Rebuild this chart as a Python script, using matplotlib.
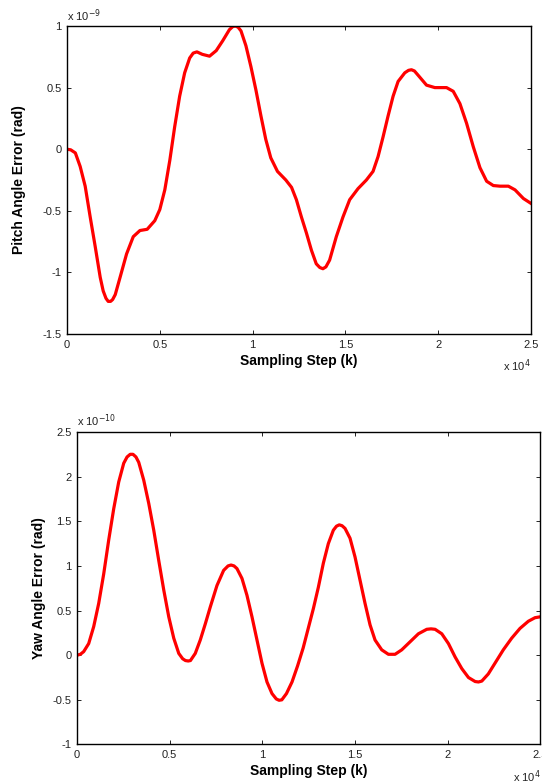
import matplotlib
matplotlib.use("Agg")
import matplotlib.pyplot as plt
from matplotlib.ticker import FuncFormatter

plt.rcParams['font.family'] = ['Liberation Sans', 'DejaVu Sans']

# sampling step in units of 1e4, pitch error in units of 1e-9 rad
pitch_k = [0, 0.02, 0.045, 0.071, 0.098, 0.125, 0.152, 0.179, 0.195, 0.21, 0.222,
           0.235, 0.246, 0.26, 0.286, 0.321, 0.357, 0.393, 0.432, 0.473, 0.5,
           0.527, 0.554, 0.58, 0.607, 0.634, 0.661, 0.68, 0.7, 0.729, 0.768,
           0.804, 0.839, 0.875, 0.893, 0.907, 0.922, 0.9375, 0.964, 0.991, 1.018,
           1.045, 1.071, 1.098, 1.134, 1.179, 1.21, 1.236, 1.263, 1.29, 1.317,
           1.343, 1.362, 1.379, 1.395, 1.415, 1.451, 1.487, 1.523, 1.568, 1.613,
           1.649, 1.676, 1.703, 1.73, 1.757, 1.784, 1.82, 1.84, 1.856, 1.872,
           1.892, 1.937, 1.982, 2.045, 2.081, 2.117, 2.153, 2.189, 2.225, 2.261,
           2.297, 2.333, 2.378, 2.414, 2.459, 2.5]
pitch_err = [0, -0.005, -0.03, -0.14, -0.30, -0.55, -0.79, -1.04, -1.15, -1.21, -1.235,
             -1.235, -1.22, -1.18, -1.04, -0.85, -0.71, -0.66, -0.65, -0.58, -0.49,
             -0.33, -0.09, 0.18, 0.43, 0.62, 0.74, 0.78, 0.79, 0.77, 0.755,
             0.80, 0.88, 0.97, 0.995, 1.0, 0.99, 0.96, 0.84, 0.67, 0.48,
             0.27, 0.08, -0.07, -0.18, -0.25, -0.31, -0.41, -0.55, -0.68, -0.82,
             -0.93, -0.96, -0.97, -0.955, -0.90, -0.71, -0.55, -0.41, -0.32, -0.25,
             -0.18, -0.06, 0.10, 0.27, 0.43, 0.55, 0.62, 0.64, 0.645, 0.635,
             0.60, 0.52, 0.50, 0.50, 0.47, 0.37, 0.21, 0.02, -0.15, -0.26,
             -0.295, -0.30, -0.30, -0.33, -0.40, -0.44]

# yaw error in units of 1e-10 rad
yaw_k = [0, 0.018, 0.036, 0.063, 0.09, 0.117, 0.144, 0.171, 0.198, 0.225, 0.252,
         0.27, 0.287, 0.302, 0.318, 0.333, 0.36, 0.387, 0.414, 0.441, 0.468,
         0.495, 0.522, 0.549, 0.57, 0.585, 0.6, 0.612, 0.638, 0.665, 0.692,
         0.719, 0.755, 0.791, 0.815, 0.831, 0.847, 0.863, 0.89, 0.917, 0.944,
         0.971, 0.998, 1.025, 1.052, 1.075, 1.09, 1.105, 1.13, 1.16, 1.19,
         1.22, 1.25, 1.275, 1.302, 1.329, 1.356, 1.383, 1.4, 1.415, 1.43,
         1.446, 1.473, 1.5, 1.527, 1.554, 1.581, 1.608, 1.644, 1.68, 1.716,
         1.752, 1.797, 1.842, 1.887, 1.91, 1.932, 1.968, 2.004, 2.04, 2.076,
         2.112, 2.148, 2.166, 2.184, 2.219, 2.255, 2.3, 2.345, 2.39, 2.435,
         2.471, 2.5]
yaw_err = [0, 0.01, 0.04, 0.13, 0.32, 0.58, 0.91, 1.29, 1.64, 1.94, 2.15,
           2.22, 2.25, 2.25, 2.22, 2.16, 1.96, 1.70, 1.40, 1.06, 0.73,
           0.43, 0.19, 0.02, -0.04, -0.06, -0.065, -0.06, 0.02, 0.17, 0.35,
           0.54, 0.78, 0.95, 1.0, 1.01, 1.0, 0.97, 0.86, 0.67, 0.43,
           0.17, -0.09, -0.30, -0.43, -0.49, -0.505, -0.5, -0.43, -0.30, -0.12,
           0.08, 0.32, 0.52, 0.76, 1.03, 1.25, 1.40, 1.445, 1.46, 1.45,
           1.42, 1.31, 1.10, 0.84, 0.58, 0.34, 0.17, 0.06, 0.01, 0.01,
           0.06, 0.15, 0.24, 0.29, 0.295, 0.29, 0.24, 0.13, -0.02, -0.15,
           -0.25, -0.295, -0.3, -0.29, -0.21, -0.09, 0.06, 0.19, 0.30, 0.38,
           0.42, 0.43]

x_ticks = [0, 0.5, 1, 1.5, 2, 2.5]
pitch_ticks = [-1.5, -1, -0.5, 0, 0.5, 1]
yaw_ticks = [-1, -0.5, 0, 0.5, 1, 1.5, 2, 2.5]

fig = plt.figure(figsize=(5.42, 7.83), dpi=100)
ax1 = fig.add_axes([0.1236, 0.5734, 0.8561, 0.3934])
ax2 = fig.add_axes([0.1421, 0.0492, 0.8549, 0.3991])

fmt = FuncFormatter(lambda v, p: '%g' % v)

def style(ax, yticks, ylabel, yexp, ylabel_x):
    ax.set_xlim(0, 2.5)
    ax.set_ylim(yticks[0], yticks[-1])
    ax.set_xticks(x_ticks)
    ax.set_yticks(yticks)
    ax.xaxis.set_major_formatter(fmt)
    ax.yaxis.set_major_formatter(fmt)
    ax.tick_params(direction='in', length=3, width=0.6, top=True, right=True,
                   labelsize=8, labelcolor='#222222', pad=4)
    for s in ax.spines.values():
        s.set_linewidth(1.0)
    ax.set_xlabel('Sampling Step (k)', fontsize=10, fontweight='bold', labelpad=3)
    ax.set_ylabel(ylabel, fontsize=10, fontweight='bold')
    ax.yaxis.set_label_coords(ylabel_x, 0.5)
    ax.text(0.0, 1.008, r'x 10$^{%d}$' % yexp, transform=ax.transAxes,
            fontsize=8, ha='left', va='bottom', color='#222222')
    ax.text(1.0, -0.075, r'x 10$^{4}$', transform=ax.transAxes,
            fontsize=8, ha='right', va='top', color='#222222')

ax1.plot(pitch_k, pitch_err, color='red', linewidth=2.3)
style(ax1, pitch_ticks, 'Pitch Angle Error (rad)', -9, -0.088)

ax2.plot(yaw_k, yaw_err, color='red', linewidth=2.3)
style(ax2, yaw_ticks, 'Yaw Angle Error (rad)', -10, -0.066)

fig.savefig('out.png', dpi=100, facecolor='white')
